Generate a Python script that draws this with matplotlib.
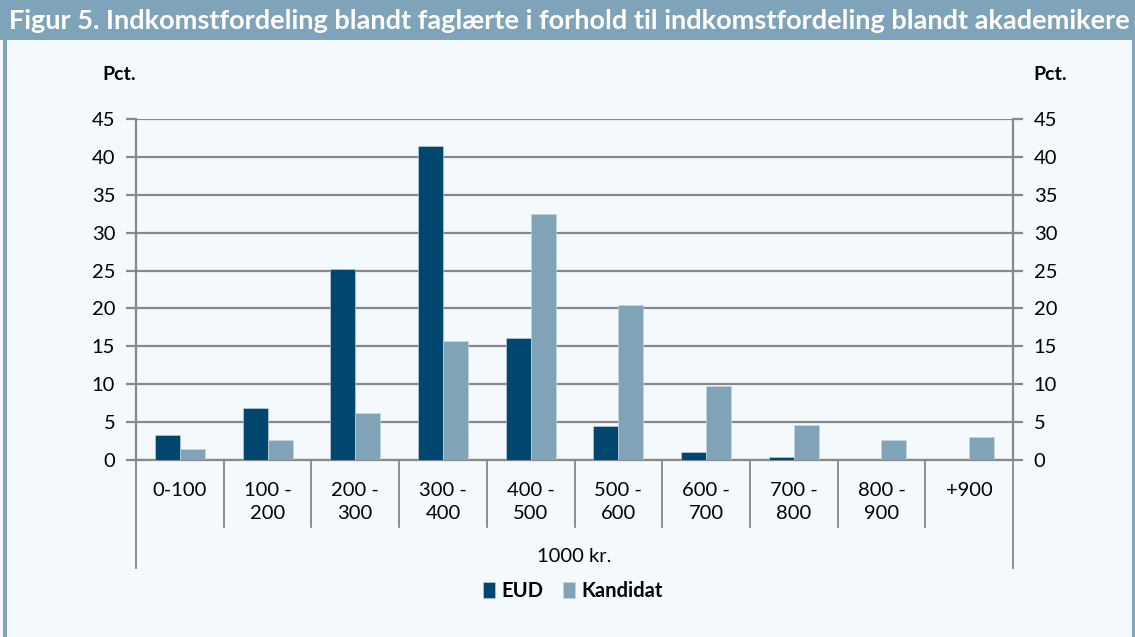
import matplotlib
matplotlib.use('Agg')
import matplotlib.pyplot as plt
import matplotlib.transforms as mtransforms
from matplotlib.patches import Rectangle
import numpy as np

plt.rcParams['font.family'] = ['Lato', 'DejaVu Sans']

# data
categories = ['0-100', '100 -\n200', '200 -\n300', '300 -\n400', '400 -\n500',
              '500 -\n600', '600 -\n700', '700 -\n800', '800 -\n900', '+900']
eud = [3.3, 6.8, 25.2, 41.4, 16.1, 4.5, 1.1, 0.35, 0, 0]
kandidat = [1.5, 2.6, 6.2, 15.7, 32.4, 20.4, 9.8, 4.6, 2.6, 3.1]
yticks = [0, 5, 10, 15, 20, 25, 30, 35, 40, 45]

title = 'Figur 5. Indkomstfordeling blandt faglærte i forhold til indkomstfordeling blandt akademikere'
xlabel = '1000 kr.'
series_names = ['EUD', 'Kandidat']

c_eud = '#00466E'
c_kand = '#81A3B8'
bg = '#F4F9FD'
frame = '#7FA3B8'
grid_c = '#888888'

W, H = 1135, 637
fig = plt.figure(figsize=(W / 100, H / 100), dpi=100)
fig.patch.set_facecolor(bg)

# header bar and side borders
fig.add_artist(Rectangle((0, 1 - 40 / H), 1, 40 / H, transform=fig.transFigure,
                         facecolor=frame, edgecolor='none'))
fig.add_artist(Rectangle((3 / W, 0), 4 / W, 1, transform=fig.transFigure,
                         facecolor=frame, edgecolor='none'))
fig.add_artist(Rectangle((1132 / W, 0), 3 / W, 1, transform=fig.transFigure,
                         facecolor=frame, edgecolor='none'))
fig.text(9 / W, 1 - 21 / H, title, color='white', fontsize=19.5, fontweight='bold',
         va='center', ha='left')

ax = fig.add_axes([136 / W, 1 - 460 / H, 877 / W, 341 / H])
ax.set_facecolor(bg)

x = np.arange(len(categories))
bw = 0.285
ax.bar(x - bw / 2, eud, bw, color=c_eud, edgecolor='#C9D9E4', linewidth=0.4,
       label=series_names[0], zorder=3)
ax.bar(x + bw / 2, kandidat, bw, color=c_kand, edgecolor='#C9D9E4', linewidth=0.4,
       label=series_names[1], zorder=3)

ax.set_xlim(-0.5, len(categories) - 0.5)
ax.set_ylim(0, 45)
ax.set_yticks(yticks)
ax.yaxis.grid(True, color=grid_c, linewidth=1.6, zorder=1)
ax.set_axisbelow(True)

ax.spines['top'].set_visible(False)
for s in ['left', 'right', 'bottom']:
    ax.spines[s].set_color(grid_c)
    ax.spines[s].set_linewidth(1.6)

ax.tick_params(axis='y', which='both', left=True, right=True, labelleft=True,
               labelright=True, direction='out', length=7, width=1.6, color=grid_c,
               labelsize=14.5, pad=8)
ax.set_xticks(x)
ax.set_xticklabels(categories, fontsize=14.5, linespacing=1.4)
ax.tick_params(axis='x', length=0, pad=16)

# category separators below the axis
trans = mtransforms.blended_transform_factory(ax.transData, fig.transFigure)
for b in np.arange(0.5, len(categories) - 0.5, 1):
    ax.plot([b, b], [1 - 460 / H, 1 - 527 / H], transform=trans, color=grid_c,
            linewidth=1.3, clip_on=False)
for b in [-0.5, len(categories) - 0.5]:
    ax.plot([b, b], [1 - 460 / H, 1 - 568 / H], transform=trans, color=grid_c,
            linewidth=1.3, clip_on=False)

fig.text((136 + 1013) / 2 / W, 1 - 556 / H, xlabel, fontsize=14.5, ha='center', va='center')

fig.text(119 / W, 1 - 75 / H, 'Pct.', fontsize=14, fontweight='bold', ha='center', va='center')
fig.text(1050 / W, 1 - 75 / H, 'Pct.', fontsize=14, fontweight='bold', ha='center', va='center')

fig.legend(loc='center', bbox_to_anchor=(573 / W, 1 - 591 / H), ncol=2, frameon=False,
           handlelength=0.6, handleheight=0.9, handletextpad=0.3,
           columnspacing=1.0, prop={'weight': 'bold', 'size': 14.5})

fig.savefig('out.png', dpi=100, facecolor=bg)
